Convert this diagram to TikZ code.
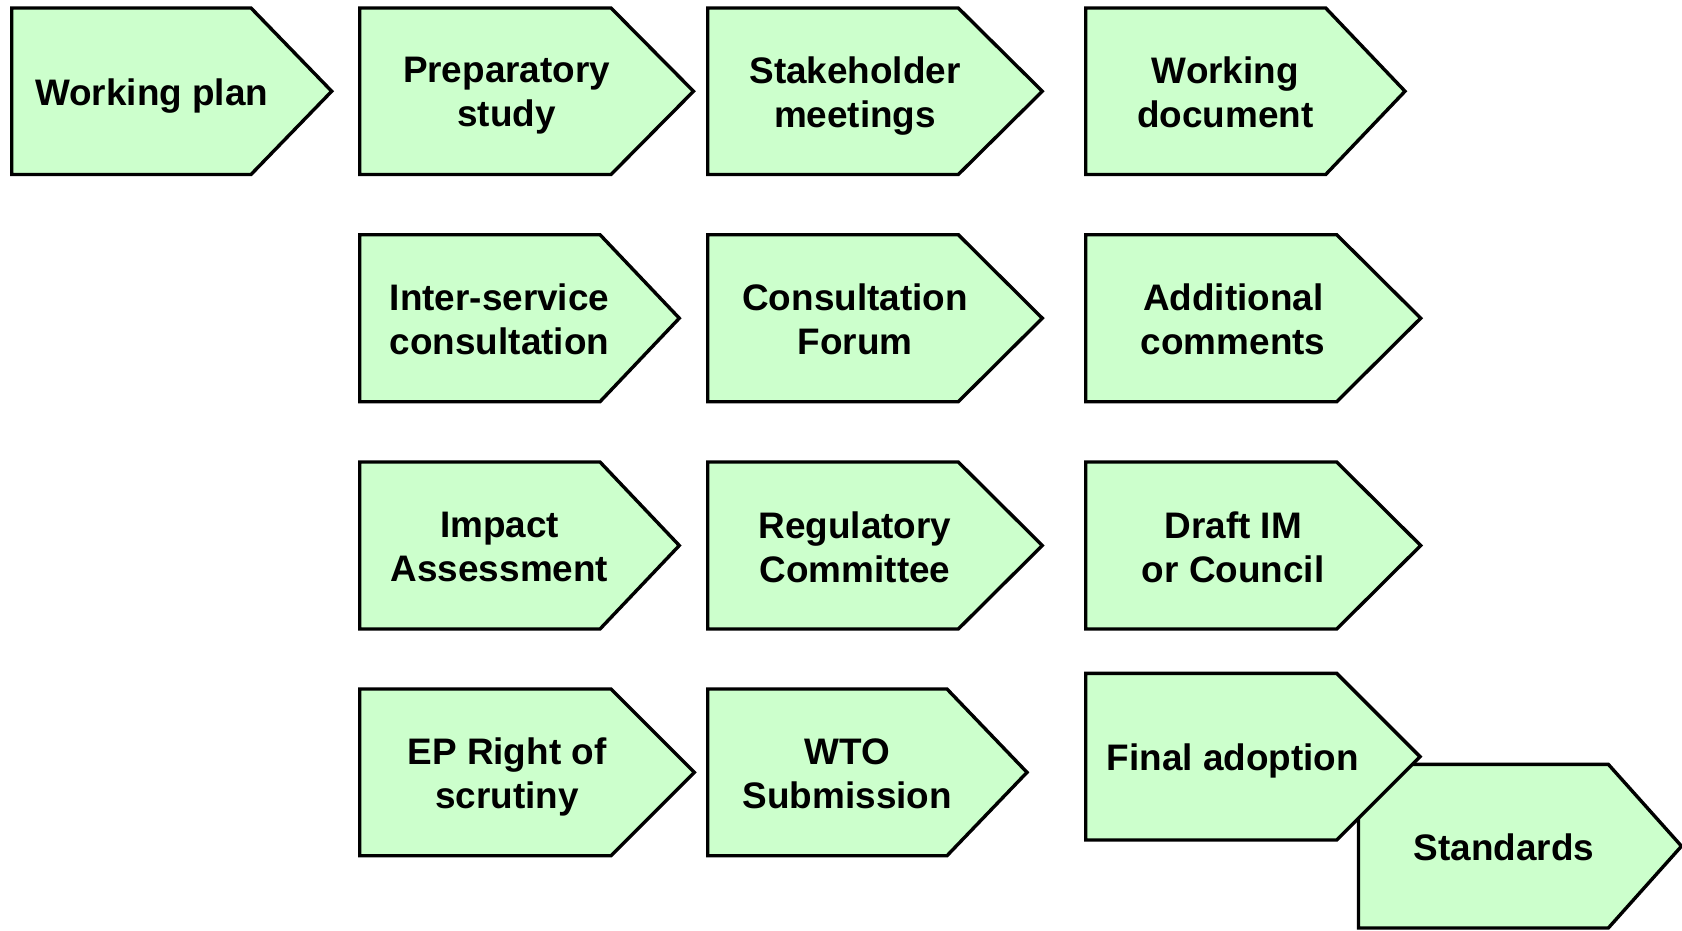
\documentclass[tikz,border=0pt]{standalone}
\usepackage{fontspec}
\setmainfont{Liberation Sans}
\definecolor{chevfill}{HTML}{CCFFCC}
\tikzset{
  chev/.style={draw=black, fill=chevfill, line width=3.4pt, line join=miter},
  lbl/.style={font=\bfseries\fontsize{36.9}{44}\selectfont, align=center, inner sep=0pt, text=black},
  lower/.style={yshift=-3pt}
}
% [#1 node options], #2 name, #3 left, #4 top, #5 bottom, #6 shoulder x, #7 tip x, #8 text
\newcommand\chevbox[8][]{%
  \draw[chev] (#3,#4) -- (#6,#4) -- (#7,{(#4+#5)/2}) -- (#6,#5) -- (#3,#5) -- cycle;
  \node[lbl,#1] (#2) at ({(#3+#7)/2-20},{(#4+#5)/2+1.5}) {#8};
}
\begin{document}
\begin{tikzpicture}[x=1pt,y=-1pt]
\useasboundingbox (0,0) rectangle (1682,930);
% row 1
\chevbox[lower]{wp}{11.7}{8}{174.5}{251}{331.7}{Working plan}
\chevbox[lower]{prep}{359.7}{8}{174.5}{611}{693.5}{Preparatory\\study}
\chevbox[lower]{stake}{707.7}{8}{174.5}{958.3}{1042.3}{Stakeholder\\meetings}
\chevbox{wdoc}{1085.7}{8}{174.5}{1325.7}{1405}{Working\\document}
% row 2
\chevbox{isc}{359.7}{234.7}{401.7}{600}{679.3}{Inter-service\\consultation}
\chevbox{cf}{707.7}{234.7}{401.7}{958.3}{1042.3}{Consultation\\Forum}
\chevbox{addl}{1085.7}{234.7}{401.7}{1336.7}{1420.7}{Additional\\comments}
% row 3
\chevbox{ia}{359.7}{462}{629}{600}{679.3}{Impact\\Assessment}
\chevbox{reg}{707.7}{462}{629}{958.3}{1042.3}{Regulatory\\Committee}
\chevbox{draft}{1085.7}{462}{629}{1336.7}{1420.7}{Draft IM\\or Council}
% row 4
\chevbox[lower]{ep}{359.7}{689}{855.7}{611}{694.3}{EP Right of\\scrutiny}
\chevbox{wto}{707.7}{689}{855.7}{947}{1027}{WTO\\Submission}
\chevbox[xshift=4pt]{std}{1358.5}{764.3}{928}{1608.3}{1681.5}{Standards}
\chevbox[lower]{final}{1085.7}{673.3}{840}{1336.7}{1420}{Final adoption}
\end{tikzpicture}
\end{document}
